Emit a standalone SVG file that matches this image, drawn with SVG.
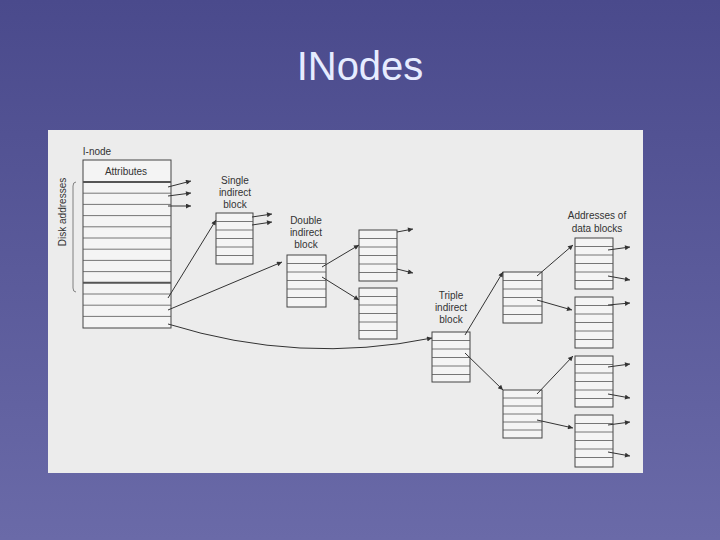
<svg xmlns="http://www.w3.org/2000/svg" width="720" height="540" viewBox="0 0 720 540">
<defs>
<linearGradient id="bg" x1="0" y1="0" x2="0" y2="1"><stop offset="0" stop-color="#4a4a8c"/><stop offset="1" stop-color="#6a6aa8"/></linearGradient>
<marker id="ah" viewBox="0 0 10 10" refX="10" refY="5" markerWidth="7" markerHeight="5" orient="auto" markerUnits="userSpaceOnUse"><path d="M0,0 L10,5 L0,10 z" fill="#333"/></marker>
<pattern id="rows" x="0" y="0" width="10" height="8.5" patternUnits="userSpaceOnUse"><line x1="0" y1="0" x2="10" y2="0" stroke="#555" stroke-width="0.8"/></pattern>
</defs>
<style>
.t{font-family:"Liberation Sans",Arial,sans-serif;fill:#333;font-size:10px;text-anchor:middle}
.b{fill:#f4f4f4;stroke:#444;stroke-width:1}
.r{stroke:#555;stroke-width:0.8}
.c{stroke:#333;stroke-width:1;fill:none;marker-end:url(#ah)}
</style>
<rect width="720" height="540" fill="url(#bg)"/>
<text x="360" y="80" font-family="Liberation Sans,Arial,sans-serif" font-size="40" fill="#e6ecff" text-anchor="middle">INodes</text>
<rect x="48" y="130" width="595" height="343" fill="#ececec"/>
<g id="inode">
<text class="t" x="97" y="155">I-node</text>
<rect class="b" x="83" y="160" width="88" height="168"/>
<text class="t" x="126" y="175">Attributes</text>
<g class="r">
<line x1="83" y1="182" x2="171" y2="182" stroke-width="2"/>
<line x1="83" y1="193.2" x2="171" y2="193.2"/><line x1="83" y1="204.4" x2="171" y2="204.4"/><line x1="83" y1="215.6" x2="171" y2="215.6"/><line x1="83" y1="226.8" x2="171" y2="226.8"/><line x1="83" y1="238" x2="171" y2="238"/><line x1="83" y1="249.2" x2="171" y2="249.2"/><line x1="83" y1="260.4" x2="171" y2="260.4"/><line x1="83" y1="271.6" x2="171" y2="271.6"/><line x1="83" y1="282.8" x2="171" y2="282.8" stroke-width="2"/><line x1="83" y1="294" x2="171" y2="294"/><line x1="83" y1="305.2" x2="171" y2="305.2"/><line x1="83" y1="316.4" x2="171" y2="316.4"/>
</g>
<path d="M76,182 Q73,182 73,186 L73,288 Q73,292 76,292" fill="none" stroke="#666" stroke-width="0.8"/>
<text class="t" transform="translate(66,212) rotate(-90)">Disk addresses</text>
</g>
<g id="single">
<text class="t" x="235" y="184">Single</text><text class="t" x="235" y="196">indirect</text><text class="t" x="235" y="208">block</text>
<rect class="b" x="216" y="213" width="37" height="51"/>
<path class="r" d="M216,221.5H253M216,230H253M216,238.5H253M216,247H253M216,255.5H253"/>
</g>
<g id="double">
<text class="t" x="306" y="224">Double</text><text class="t" x="306" y="236">indirect</text><text class="t" x="306" y="248">block</text>
<rect class="b" x="287" y="255" width="39" height="52"/>
<path class="r" d="M287,263.5H326M287,272H326M287,280.5H326M287,289H326M287,297.5H326"/>
</g>
<g id="d2a"><rect class="b" x="359" y="230" width="38" height="51"/><path class="r" d="M359,238.5H397M359,247H397M359,255.5H397M359,264H397M359,272.5H397"/></g>
<g id="d2b"><rect class="b" x="359" y="288" width="38" height="51"/><path class="r" d="M359,296.5H397M359,305H397M359,313.5H397M359,322H397M359,330.5H397"/></g>
<g id="triple">
<text class="t" x="451" y="299">Triple</text><text class="t" x="451" y="311">indirect</text><text class="t" x="451" y="323">block</text>
<rect class="b" x="432" y="332" width="38" height="50"/>
<path class="r" d="M432,340.5H470M432,349H470M432,357.5H470M432,366H470M432,374.5H470"/>
</g>
<g id="t2a"><rect class="b" x="503" y="272" width="39" height="51"/><path class="r" d="M503,280.5H542M503,289H542M503,297.5H542M503,306H542M503,314.5H542"/></g>
<g id="t2b"><rect class="b" x="503" y="390" width="39" height="48"/><path class="r" d="M503,398H542M503,406H542M503,414H542M503,422H542M503,430H542"/></g>
<g id="data">
<text class="t" x="597" y="219">Addresses of</text><text class="t" x="597" y="232">data blocks</text>
<rect class="b" x="575" y="238" width="38" height="51"/><path class="r" d="M575,246.5H613M575,255H613M575,263.5H613M575,272H613M575,280.5H613"/>
<rect class="b" x="575" y="297" width="38" height="51"/><path class="r" d="M575,305.5H613M575,314H613M575,322.5H613M575,331H613M575,339.5H613"/>
<rect class="b" x="575" y="356" width="38" height="51"/><path class="r" d="M575,364.5H613M575,373H613M575,381.5H613M575,390H613M575,398.5H613"/>
<rect class="b" x="575" y="415" width="38" height="52"/><path class="r" d="M575,423.5H613M575,432H613M575,440.5H613M575,449H613M575,457.5H613"/>
</g>
<g id="connectors">
<path class="c" d="M168,187L191,181"/><path class="c" d="M168,196L191,193"/><path class="c" d="M168,206L191,206"/>
<path class="c" d="M252,217L272,214"/><path class="c" d="M252,225L272,222"/>
<path class="c" d="M168,298L216,220"/>
<path class="c" d="M168,310L282,262"/>
<path class="c" d="M168,324Q300,365 432,338"/>
<path class="c" d="M322,267L359,245"/><path class="c" d="M322,277L359,300"/>
<path class="c" d="M397,232L413,229"/><path class="c" d="M397,269L413,273"/>
<path class="c" d="M465,335L503,272"/><path class="c" d="M465,353L503,390"/>
<path class="c" d="M537,276L573,245"/><path class="c" d="M537,300L572,310"/>
<path class="c" d="M537,394L573,356"/><path class="c" d="M537,420L573,428"/>
<path class="c" d="M608,250L630,247"/><path class="c" d="M608,276L630,280"/><path class="c" d="M608,305L630,303"/>
<path class="c" d="M608,367L630,364"/><path class="c" d="M608,394L630,398"/><path class="c" d="M608,425L630,422"/><path class="c" d="M608,452L630,456"/>
</g>
</svg>
